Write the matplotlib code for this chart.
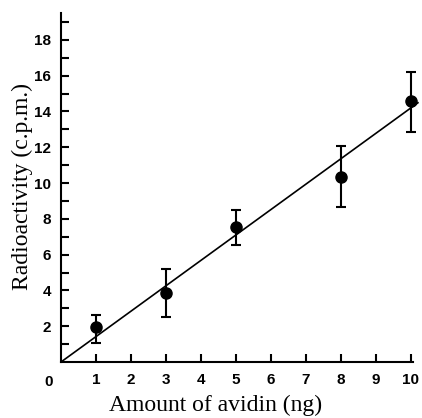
import matplotlib
matplotlib.use("Agg")
import matplotlib.pyplot as plt
import numpy as np

# Data
avidin_ng = [1, 3, 5, 8, 10]
radioactivity = [1.95, 3.87, 7.52, 10.35, 14.58]
err_low = [1.08, 2.53, 6.52, 8.64, 12.83]
err_high = [2.6, 5.18, 8.52, 12.07, 16.2]

# Fitted line through origin
fit_x = [0, 10.2]
fit_slope = 1.42

x_ticks = list(range(1, 11))
y_ticks = [2, 4, 6, 8, 10, 12, 14, 16, 18]
y_minor = [1, 3, 5, 7, 9, 11, 13, 15, 17, 19]

y = np.array(radioactivity)
yerr = [y - np.array(err_low), np.array(err_high) - y]

fig = plt.figure(figsize=(4.22, 4.18), dpi=100)
ax = fig.add_axes([61 / 422, 56 / 418, 358 / 422, 349 / 418])

ax.plot(fit_x, [v * fit_slope for v in fit_x], color="black", lw=1.2)
ax.errorbar(avidin_ng, radioactivity, yerr=yerr, fmt="o", color="black",
            ms=8, elinewidth=1.5, capsize=3.5, capthick=1.5)

ax.set_xlim(0, 10.23)
ax.set_ylim(0, 19.5)
ax.spines["top"].set_visible(False)
ax.spines["right"].set_visible(False)
ax.spines["bottom"].set_bounds(0, 10.05)
for s in ("left", "bottom"):
    ax.spines[s].set_linewidth(1.5)

ax.set_xticks(x_ticks)
ax.set_yticks(y_ticks)
ax.set_yticks(y_minor, minor=True)
ax.tick_params(direction="in", length=6, width=1.5, labelsize=11, pad=8)
ax.tick_params(axis="y", which="minor", direction="in", length=6, width=1.5)
ax.tick_params(axis="y", pad=7)
for lab in ax.get_xticklabels() + ax.get_yticklabels():
    lab.set_fontfamily("Liberation Sans")
    lab.set_fontweight("bold")
ax.text(-0.35, -1.1, "0", ha="center", va="center", fontsize=11,
        fontweight="bold", family="Liberation Sans")

# axis titles placed as in the original print
fig.text(216 / 422, 13 / 418, "Amount of avidin (ng)", ha="center", va="center",
         family="Liberation Serif", fontsize=17)
fig.text(22 / 422, 232 / 418, "Radioactivity (c.p.m.)", ha="center", va="center",
         rotation=90, family="Liberation Serif", fontsize=17)

fig.savefig("out.png", dpi=100)
